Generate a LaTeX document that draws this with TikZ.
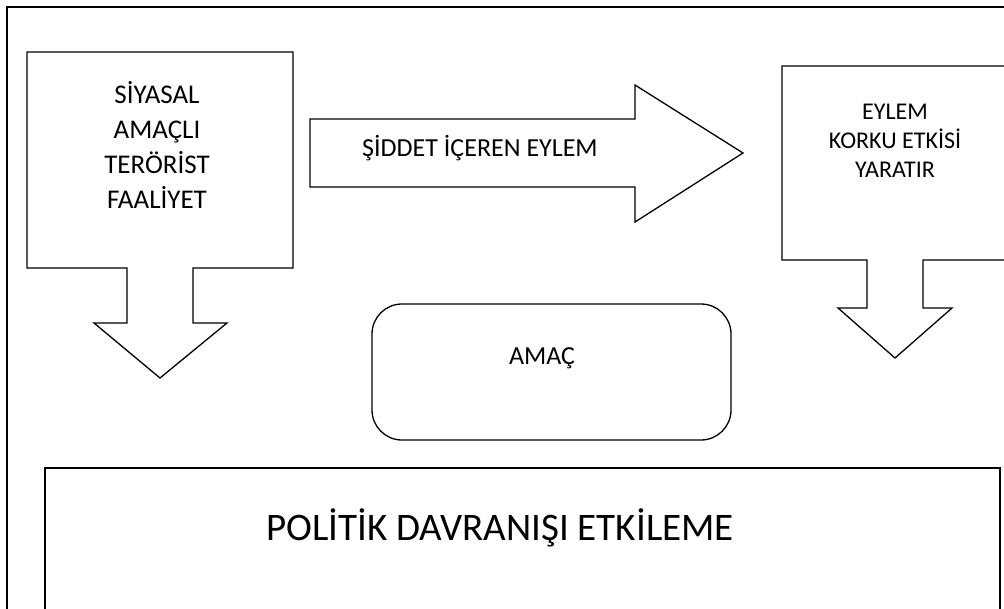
\documentclass[tikz,border=0pt]{standalone}
\usepackage{fontspec}
\setmainfont{Carlito}
\begin{document}
\begin{tikzpicture}[x=1pt,y=-1pt,
  shp/.style={draw=black,line width=1.3pt,fill=white,line join=miter},
  lbl/.style={align=center,inner sep=0pt,text=black}]
\useasboundingbox (0,0) rectangle (1004,608);
\begin{scope}
\clip (0,0) rectangle (1004,608);
% outer frame
\draw[line width=1.3pt] (7,640) -- (7,7) -- (1010,7);
% left callout
\draw[shp] (27,52) -- (293,52) -- (293,268) -- (193,268) -- (193,323) -- (227,323)
  -- (160,378) -- (94,323) -- (127,323) -- (127,268) -- (27,268) -- cycle;
\node[lbl,font=\fontsize{27}{35}\selectfont] (siyasal) at (157,145)
  {SİYASAL\\AMAÇLI\\TERÖRİST\\FAALİYET};
% horizontal arrow
\draw[shp] (310,119) -- (635,119) -- (635,85) -- (743,153) -- (635,222) -- (635,187)
  -- (310,187) -- cycle;
\node[lbl,font=\fontsize{26}{30}\selectfont] (siddet) at (480,148) {ŞİDDET İÇEREN EYLEM};
% right callout
\draw[shp] (782,66) -- (1010,66) -- (1010,260) -- (923,260) -- (923,308) -- (952,308)
  -- (895,358) -- (838,308) -- (867,308) -- (867,260) -- (782,260) -- cycle;
\node[lbl,font=\fontsize{24}{29}\selectfont] (korku) at (895,141)
  {EYLEM\\KORKU ETKİSİ\\YARATIR};
% AMAC rounded box
\draw[shp,rounded corners=30pt] (372,304) rectangle (731,440);
\node[lbl,font=\fontsize{26}{30}\selectfont] (amac) at (542,358) {AMAÇ};
% bottom box
\draw[shp] (45,468) rectangle (1000,640);
\node[lbl,font=\fontsize{39}{45}\selectfont] (politik) at (500,528) {POLİTİK DAVRANIŞI ETKİLEME};
\end{scope}
\end{tikzpicture}
\end{document}
